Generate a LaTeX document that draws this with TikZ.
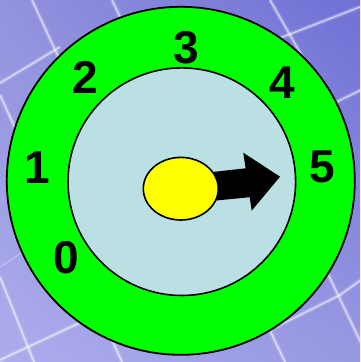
\documentclass[tikz,border=0pt]{standalone}
\usepackage{fontspec}
\setmainfont{Liberation Sans}
\usetikzlibrary{shapes.geometric,shadings}
\usepackage{xcolor}
\definecolor{bgtl}{HTML}{9292DE}
\definecolor{bgtr}{HTML}{7070D6}
\definecolor{bgbl}{HTML}{ACACEC}
\definecolor{bgbr}{HTML}{9898E2}
\definecolor{dialgreen}{HTML}{00FF00}
\definecolor{dialface}{HTML}{BBE0E3}
\definecolor{hubyellow}{HTML}{FFFF00}

\begin{document}
\begin{tikzpicture}[x=1pt, y=-1pt,
  digit/.style={inner sep=0pt, font=\fontsize{46}{46}\selectfont\bfseries},
  tile/.style={white, opacity=0.55, line width=1.5pt},
  tileglow/.style={white, opacity=0.18, line width=4.5pt}]
  \useasboundingbox (0,0) rectangle (360,362);
  \shade[upper left=bgtl, upper right=bgtr, lower left=bgbl, lower right=bgbr] (0,0) rectangle (360,362);

  % background tiles
  \begin{scope}
    \clip (0,0) rectangle (360,362);
    \foreach \st in {tileglow, tile} {
      \draw[\st] (32,0) -- (120,190);
      \draw[\st] (112,0) -- (285,362);
      \draw[\st] (270,0) -- (310,70);
      \draw[\st] (290,195) -- (375,372);
      \draw[\st] (0,95) -- (122,362);
      \draw[\st] (0,277) -- (34,362);
      \draw[\st] (0,83) -- (60,47);
      \draw[\st] (280,38) -- (365,5);
      \draw[\st] (320,110) -- (365,88);
      \draw[\st] (0,360) -- (90,318);
      \draw[\st] (270,330) -- (340,295) -- (365,277);
    }
    \draw[tile, opacity=0.25] (0,267) -- (30,247);
  \end{scope}

  \node[circle, draw, line width=1.8pt, fill=dialgreen, minimum size=348pt, inner sep=0pt] (dial) at (180.8,180.8) {};
  \node[circle, draw, line width=1.6pt, fill=dialface, minimum size=227.6pt, inner sep=0pt] (face) at (181.8,181.7) {};

  % pointer
  \fill (200,173.4) -- (245.6,168.3) -- (243.3,152.7) -- (280,176.7) -- (251.7,210.7) -- (249.7,197.2) -- (200,202.1) -- cycle;
  \node[ellipse, draw, line width=1.6pt, fill=hubyellow, minimum width=75pt, minimum height=62.6pt, inner sep=0pt] (hub) at (180.8,188.7) {};

  \node[digit] (d0) at (66,258) {0};
  \node[digit] (d1) at (37.5,168) {1};
  \node[digit] (d2) at (85,77) {2};
  \node[digit] (d3) at (186,47.5) {3};
  \node[digit] (d4) at (282,82.5) {4};
  \node[digit] (d5) at (322.5,166.5) {5};
\end{tikzpicture}
\end{document}
